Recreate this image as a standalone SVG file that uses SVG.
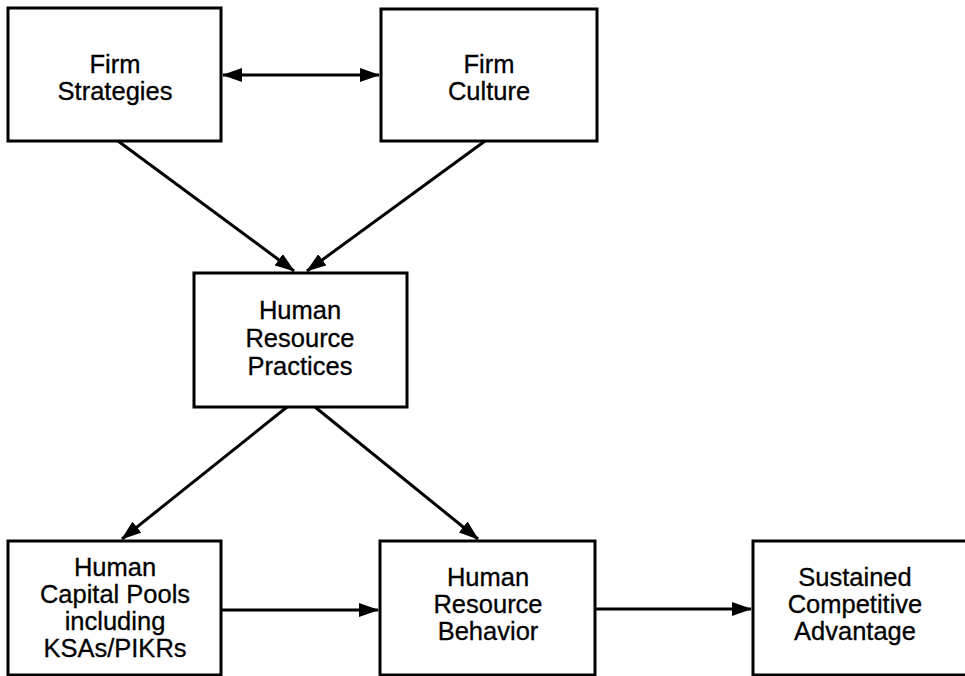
<svg xmlns="http://www.w3.org/2000/svg" width="965" height="676" viewBox="0 0 965 676">
<style>
.box{fill:#fff;stroke:#000;stroke-width:3}
.lbl{font-family:"Liberation Sans",Arial,Helvetica,sans-serif;font-size:25.5px;fill:#000;stroke:#000;stroke-width:0.3;text-anchor:middle}
.con{stroke:#000;stroke-width:3;fill:none;marker-end:url(#ah)}
</style>
<defs>
<marker id="ah" markerUnits="userSpaceOnUse" markerWidth="20" markerHeight="14" refX="19" refY="7" orient="auto-start-reverse">
<path d="M0,0 L20,7 L0,14 Z" fill="#000"/>
</marker>
</defs>
<rect width="965" height="676" fill="#fff"/>
<g id="connectors">
<line class="con" x1="223" y1="75" x2="379" y2="75" marker-start="url(#ah)"/>
<line class="con" x1="118" y1="141" x2="294" y2="271"/>
<line class="con" x1="485" y1="141" x2="307" y2="271"/>
<line class="con" x1="287" y1="407" x2="122" y2="539"/>
<line class="con" x1="315" y1="407" x2="478" y2="539"/>
<line class="con" x1="221" y1="610" x2="378" y2="610"/>
<line class="con" x1="595" y1="609" x2="751" y2="609"/>
</g>
<g id="firm-strategies">
<rect class="box" x="8" y="8" width="213" height="133"/>
<text class="lbl" x="115" y="73">Firm</text>
<text class="lbl" x="115" y="100">Strategies</text>
</g>
<g id="firm-culture">
<rect class="box" x="381" y="9" width="216" height="132"/>
<text class="lbl" x="489" y="73">Firm</text>
<text class="lbl" x="489" y="100">Culture</text>
</g>
<g id="hr-practices">
<rect class="box" x="194" y="273" width="213" height="134"/>
<text class="lbl" x="300" y="319">Human</text>
<text class="lbl" x="300" y="347">Resource</text>
<text class="lbl" x="300" y="375">Practices</text>
</g>
<g id="human-capital-pools">
<rect class="box" x="8" y="541" width="213" height="134"/>
<text class="lbl" x="115" y="576">Human</text>
<text class="lbl" x="115" y="603">Capital Pools</text>
<text class="lbl" x="115" y="630">including</text>
<text class="lbl" x="115" y="657">KSAs/PIKRs</text>
</g>
<g id="hr-behavior">
<rect class="box" x="380" y="541" width="215" height="134"/>
<text class="lbl" x="488" y="586">Human</text>
<text class="lbl" x="488" y="613">Resource</text>
<text class="lbl" x="488" y="640">Behavior</text>
</g>
<g id="sustained-advantage">
<rect class="box" x="753" y="541" width="216" height="134"/>
<text class="lbl" x="855" y="586">Sustained</text>
<text class="lbl" x="855" y="613">Competitive</text>
<text class="lbl" x="855" y="640">Advantage</text>
</g>
</svg>
